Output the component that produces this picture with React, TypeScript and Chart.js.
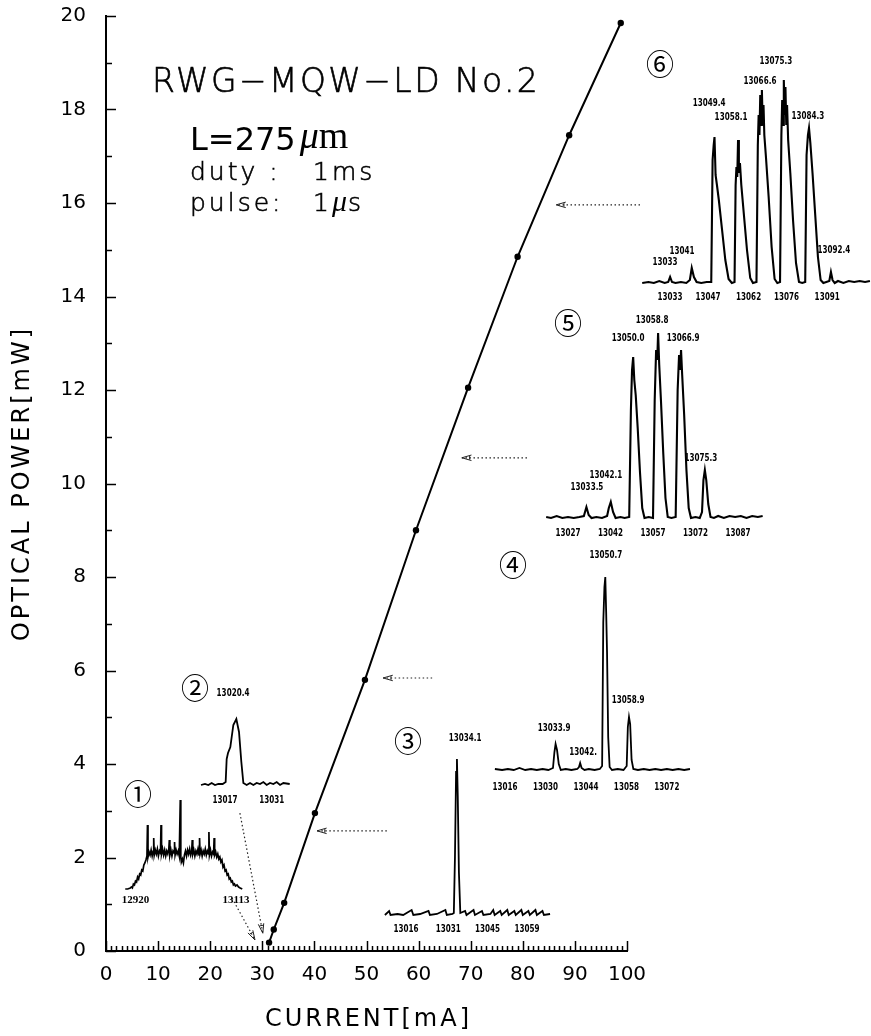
import React, { useEffect, useRef } from "react";
import { Chart, registerables } from "chart.js";

Chart.register(...registerables);

// ---------------- main L-I curve ----------------
const currentMA = [31.3, 32.2, 34.2, 40.1, 49.7, 59.5, 69.5, 79.0, 88.9, 98.8];
const powerMW = [0.18, 0.46, 1.03, 2.95, 5.8, 9.0, 12.05, 14.85, 17.45, 19.85];
const xTickLabels = ["0", "10", "20", "30", "40", "50", "60", "70", "80", "90", "100"];
const yTickLabels = ["0", "2", "4", "6", "8", "10", "12", "14", "16", "18", "20"];
const xAxisTitle = "CURRENT[mA]";
const yAxisTitle = "OPTICAL POWER[mW]";

// ---------------- spectra: [wavelength (Å), relative intensity] ----------------
const spec1: number[][] = [
  [12900.3, 1], [12905, 1], [12910, 2], [12912, 3], [12914, 2], [12916, 6], [12918, 5], [12920, 9], [12922, 8],
  [12924, 13], [12926, 11], [12928, 16], [12930, 15], [12932, 20], [12934, 19], [12936, 25], [12938, 27],
  [12940, 30], [12942, 34], [12943, 65], [12944, 33], [12946, 38], [12948, 35], [12950, 40], [12952, 34],
  [12954, 39], [12955, 52], [12956, 35], [12958, 40], [12960, 36], [12962, 41], [12964, 34], [12966, 39],
  [12968, 37], [12969, 65], [12970, 36], [12972, 41], [12974, 35], [12976, 40], [12978, 34], [12980, 39],
  [12982, 36], [12984, 41], [12985, 50], [12986, 35], [12988, 40], [12990, 34], [12992, 39], [12994, 37],
  [12995, 48], [12996, 35], [12998, 40], [13000, 36], [13002, 39], [13004, 34], [13006, 90], [13007, 33],
  [13008, 28], [13010, 31], [13012, 27], [13014, 35], [13016, 39], [13018, 34], [13020, 40], [13022, 36],
  [13024, 41], [13026, 35], [13028, 39], [13029, 50], [13030, 36], [13032, 40], [13034, 34], [13036, 39],
  [13038, 36], [13040, 41], [13042, 35], [13043, 52], [13044, 36], [13046, 40], [13048, 34], [13050, 39],
  [13052, 36], [13054, 41], [13056, 35], [13058, 39], [13060, 36], [13061, 58], [13062, 35], [13064, 40],
  [13066, 34], [13068, 38], [13070, 36], [13071, 52], [13072, 35], [13074, 38], [13076, 33], [13078, 36],
  [13080, 31], [13082, 33], [13084, 28], [13086, 30], [13088, 23], [13090, 25], [13092, 19], [13094, 20],
  [13096, 15], [13098, 16], [13100, 11], [13102, 12], [13104, 8], [13106, 9], [13108, 5], [13110, 6],
  [13112, 4], [13115, 5], [13118, 3], [13121, 2], [13125, 1], [13130, 1],
];
const spec2: number[][] = [
  [13009.8, 2], [13011, 3], [13012, 2], [13013, 4], [13014, 2], [13015, 3], [13016.3, 3], [13017.2, 5], [13017.5, 28],
  [13017.9, 34], [13018.6, 40], [13019.5, 62], [13020.4, 68], [13021.2, 55], [13021.9, 25], [13022.5, 4], [13023.5, 2],
  [13024.5, 4], [13025.5, 2], [13026.5, 4], [13027.5, 3], [13028.5, 5], [13029.5, 2], [13030.5, 4], [13031.5, 3],
  [13032.5, 5], [13033.5, 2], [13034.5, 4], [13036.4, 3],
];
const spec3: number[][] = [
  [13008.5, 2], [13010, 6], [13010.5, 2], [13013, 3], [13015, 2], [13018, 7], [13018.6, 2], [13021, 3], [13024, 6],
  [13024.5, 2], [13027, 3], [13030, 7], [13030.5, 2], [13032.5, 3], [13033.0, 4], [13033.4, 60], [13033.8, 145],
  [13034.1, 158], [13034.4, 120], [13034.8, 45], [13035.3, 4], [13037, 6], [13037.5, 2], [13040, 7], [13040.5, 2],
  [13043, 6], [13043.5, 2], [13046, 3], [13047, 7], [13047.5, 2], [13049.5, 6], [13050, 2], [13052, 7], [13052.5, 2],
  [13054.5, 6], [13055, 2], [13057, 7], [13057.5, 2], [13059.5, 6], [13060, 2], [13062, 7], [13062.5, 2], [13064.5, 6],
  [13065, 2], [13067.2, 3],
];
const spec4: number[][] = [
  [13012.5, 3], [13015, 2], [13017, 3], [13019, 2], [13021, 4], [13023, 2], [13025, 3], [13027, 2], [13029, 3],
  [13031, 2], [13032.6, 4], [13033.1, 20], [13033.5, 28], [13034, 22], [13034.6, 8], [13035.3, 2], [13037, 3],
  [13039, 2], [13041, 3], [13041.6, 5], [13042, 9], [13042.5, 4], [13043.5, 2], [13045, 3], [13047, 2], [13048.8, 3],
  [13049.6, 6], [13050.0, 150], [13050.4, 185], [13050.7, 195], [13051.0, 160], [13051.3, 120], [13051.7, 35],
  [13052.2, 5], [13053, 2], [13055, 3], [13057, 2], [13058.1, 6], [13058.5, 45], [13058.9, 55], [13059.3, 48],
  [13059.8, 12], [13060.4, 3], [13062, 2], [13064, 3], [13066, 2], [13068, 3], [13070, 2], [13072, 3], [13074, 2],
  [13076, 3], [13078, 2], [13080, 3],
];
const spec5: number[][] = [
  [13019.3, 3], [13021, 2], [13023, 4], [13025, 2], [13027, 3], [13029, 2], [13031, 3], [13032.6, 4], [13033.5, 13],
  [13034.3, 5], [13035.3, 2], [13037, 3], [13039, 2], [13040.8, 4], [13041.4, 12], [13042.1, 18], [13042.9, 8],
  [13043.8, 2], [13045.5, 3], [13047, 2], [13048.6, 3], [13049.2, 110], [13049.6, 150], [13050, 163], [13050.4, 140],
  [13050.9, 125], [13051.6, 92], [13052.4, 48], [13053.2, 12], [13054, 2], [13055.5, 3], [13057, 2], [13057.6, 120],
  [13058.1, 170], [13058.5, 160], [13058.8, 187], [13059.2, 155], [13059.8, 120], [13060.6, 68], [13061.4, 22],
  [13062.2, 3], [13063.5, 2], [13065, 3], [13065.7, 130], [13066.2, 165], [13066.6, 150], [13066.9, 170],
  [13067.3, 145], [13068, 105], [13068.8, 50], [13069.6, 12], [13070.4, 2], [13072, 3], [13073.5, 2], [13074.3, 8],
  [13074.8, 40], [13075.3, 50], [13075.8, 40], [13076.5, 16], [13077.3, 3], [13078.5, 2], [13080, 4], [13082, 2],
  [13084, 4], [13086, 3], [13088, 4], [13090, 2], [13092, 4], [13094, 3], [13095.7, 4],
];
const spec6: number[][] = [
  [13022.7, 2], [13025, 3], [13027, 2], [13029, 4], [13031, 2], [13032.3, 3], [13033, 8], [13033.7, 3], [13035, 2],
  [13037, 3], [13039, 2], [13040.3, 5], [13041, 17], [13041.8, 8], [13042.8, 3], [13044.5, 2], [13046.5, 3],
  [13048.2, 3], [13048.7, 125], [13049.1, 140], [13049.4, 148], [13049.8, 110], [13050.3, 100], [13051, 85],
  [13052.2, 55], [13053.4, 25], [13054.6, 6], [13055.8, 2], [13056.8, 3], [13057.2, 100], [13057.5, 118],
  [13057.8, 108], [13058.1, 145], [13058.4, 112], [13058.8, 122], [13059.3, 100], [13060.2, 72], [13061.4, 35],
  [13062.6, 7], [13063.6, 2], [13064.9, 3], [13065.4, 140], [13065.7, 170], [13066, 150], [13066.3, 190],
  [13066.6, 160], [13066.9, 195], [13067.2, 160], [13067.5, 180], [13067.8, 150], [13068.4, 128], [13069.4, 88],
  [13070.5, 38], [13071.6, 6], [13072.6, 2], [13073.6, 3], [13074.1, 150], [13074.4, 185], [13074.7, 160],
  [13075, 205], [13075.3, 170], [13075.6, 198], [13075.9, 160], [13076.2, 180], [13076.6, 145], [13077.4, 112],
  [13078.4, 65], [13079.5, 22], [13080.6, 3], [13081.8, 2], [13082.9, 3], [13083.4, 130], [13083.9, 150],
  [13084.3, 157], [13084.8, 142], [13085.6, 112], [13086.6, 70], [13087.6, 28], [13088.6, 5], [13089.6, 2],
  [13091.8, 4], [13092.4, 13], [13093, 5], [13093.8, 2], [13095, 4], [13097, 2], [13099, 4], [13101, 3], [13103, 4],
  [13105, 3], [13106.8, 4],
];

// spectrum axis ticks
const spec1Ticks = [12920, 13113];
const spec2Ticks = [13017, 13031];
const spec3Ticks = [13016, 13031, 13045, 13059];
const spec4Ticks = [13016, 13030, 13044, 13058, 13072];
const spec5Ticks = [13027, 13042, 13057, 13072, 13087];
const spec6Ticks = [13033, 13047, 13062, 13076, 13091];

// peak labels (text, wavelength)
const spec2PeakText = ["13020.4"];
const spec2PeakLambda = [13019.4];
const spec3PeakText = ["13034.1"];
const spec3PeakLambda = [13037.0];
const spec4PeakText = ["13050.7", "13058.9", "13033.9", "13042."];
const spec4PeakLambda = [13050.9, 13058.6, 13033.0, 13043.0];
const spec5PeakText = ["13050.0", "13058.8", "13066.9", "13042.1", "13033.5", "13075.3"];
const spec5PeakLambda = [13048.2, 13056.7, 13067.6, 13040.4, 13033.7, 13073.9];
const spec6PeakText = ["13075.3", "13066.6", "13049.4", "13058.1", "13084.3", "13041", "13033", "13092.4"];
const spec6PeakLambda = [13072.1, 13066.2, 13047.4, 13055.5, 13083.9, 13037.4, 13031.1, 13093.5];

// ---------------- layout / style (not data) ----------------
const PADX = 22;
const PADB = 24;
const LABEL_FONT = 'bold 10px "DejaVu Sans"';
const LABEL_SCALE = 0.72;

const spec2LabelLevel = [94];
const spec3LabelLevel = [179];
const spec4LabelLevel = [217, 72, 44, 20];
const spec5LabelLevel = [182, 200, 182, 45, 33, 62];
const spec6LabelLevel = [224, 204, 182, 168, 169, 34, 23, 35];

type Inset = {
  data: number[][];
  ticks: number[];
  peakText: string[];
  peakLambda: number[];
  labelLevel: number[];
  left: number;
  right: number;
  base: number;
  top: number;
  refA: number[];
  refB: number[];
  tickOffset: number;
  tickFont: string;
  tickScale: number;
  lineWidth: number;
};

const insets: Inset[] = [
  { data: spec1, ticks: spec1Ticks, peakText: [], peakLambda: [], labelLevel: [], left: 125, right: 242, base: 890, top: 780, refA: [12920, 135.5], refB: [13113, 236], tickOffset: 10, tickFont: 'bold 11px "Liberation Serif"', tickScale: 1, lineWidth: 1.7 },
  { data: spec2, ticks: spec2Ticks, peakText: spec2PeakText, peakLambda: spec2PeakLambda, labelLevel: spec2LabelLevel, left: 203, right: 292, base: 787, top: 680, refA: [13017, 225], refB: [13031, 271.7], tickOffset: 13, tickFont: LABEL_FONT, tickScale: LABEL_SCALE, lineWidth: 1.8 },
  { data: spec3, ticks: spec3Ticks, peakText: spec3PeakText, peakLambda: spec3PeakLambda, labelLevel: spec3LabelLevel, left: 385, right: 550, base: 917, top: 726, refA: [13016, 406], refB: [13059, 527], tickOffset: 12, tickFont: LABEL_FONT, tickScale: LABEL_SCALE, lineWidth: 1.8 },
  { data: spec4, ticks: spec4Ticks, peakText: spec4PeakText, peakLambda: spec4PeakLambda, labelLevel: spec4LabelLevel, left: 495, right: 690, base: 772, top: 543, refA: [13016, 505], refB: [13058.9, 629], tickOffset: 15, tickFont: LABEL_FONT, tickScale: LABEL_SCALE, lineWidth: 1.8 },
  { data: spec5, ticks: spec5Ticks, peakText: spec5PeakText, peakLambda: spec5PeakLambda, labelLevel: spec5LabelLevel, left: 545, right: 763, base: 520, top: 308, refA: [13027, 568], refB: [13087, 738], tickOffset: 13, tickFont: LABEL_FONT, tickScale: LABEL_SCALE, lineWidth: 2.1 },
  { data: spec6, ticks: spec6Ticks, peakText: spec6PeakText, peakLambda: spec6PeakLambda, labelLevel: spec6LabelLevel, left: 643, right: 870, base: 285, top: 48, refA: [13049.4, 714.5], refB: [13084.3, 809], tickOffset: 12, tickFont: LABEL_FONT, tickScale: LABEL_SCALE, lineWidth: 2.1 },
];

// circled markers (pixel centres on the page)
const markerText = ["①", "②", "③", "④", "⑤", "⑥"];
const markerPos = [[138, 798], [195, 692], [408, 745], [513, 569], [568, 327], [660, 68]];

// pointer arrows in data units (mA, mW): tail -> head
const pointerArrows = [
  { from: [102.5, 15.96], to: [86.4, 15.96] },
  { from: [80.8, 10.55], to: [68.3, 10.55] },
  { from: [62.6, 5.84], to: [53.2, 5.84] },
  { from: [53.9, 2.57], to: [40.5, 2.57] },
  { from: [25.7, 2.95], to: [30.1, 0.38] },
  { from: [24.2, 1.13], to: [28.6, 0.235] },
];

function drawScaledText(ctx: CanvasRenderingContext2D, text: string, x: number, y: number, sx: number) {
  ctx.save();
  ctx.translate(x, y);
  ctx.scale(sx, 1);
  ctx.fillText(text, 0, 0);
  ctx.restore();
}

function drawArrow(ctx: CanvasRenderingContext2D, x1: number, y1: number, x2: number, y2: number) {
  ctx.save();
  ctx.strokeStyle = "#222";
  ctx.lineWidth = 1.2;
  ctx.setLineDash([1.5, 2.5]);
  ctx.beginPath();
  ctx.moveTo(x1, y1);
  ctx.lineTo(x2, y2);
  ctx.stroke();
  ctx.setLineDash([]);
  const a = Math.atan2(y1 - y2, x1 - x2);
  const len = 10;
  const spread = 0.28;
  ctx.lineWidth = 1;
  ctx.beginPath();
  ctx.moveTo(x2 + len * Math.cos(a + spread), y2 + len * Math.sin(a + spread));
  ctx.lineTo(x2, y2);
  ctx.lineTo(x2 + len * Math.cos(a - spread), y2 + len * Math.sin(a - spread));
  ctx.moveTo(x2 + len * 0.8 * Math.cos(a + spread * 0.8), y2 + len * 0.8 * Math.sin(a + spread * 0.8));
  ctx.lineTo(x2 + len * 0.8 * Math.cos(a - spread * 0.8), y2 + len * 0.8 * Math.sin(a - spread * 0.8));
  ctx.stroke();
  ctx.restore();
}

function lightText(ctx: CanvasRenderingContext2D, text: string, x: number, y: number) {
  ctx.fillText(text, x, y);
  ctx.strokeText(text, x, y);
}

const decorPlugin = {
  id: "decor",
  afterDraw(chart: any) {
    const { ctx, chartArea, scales } = chart;
    const xs = scales.x;
    const ys = scales.y;
    ctx.save();
    ctx.strokeStyle = "#000";
    ctx.lineWidth = 1.5;
    // inward tick marks
    for (let v = 0; v <= 100; v++) {
      const px = Math.round(xs.getPixelForValue(v)) + 0.5;
      const len = v % 10 === 0 ? 10 : 5;
      ctx.beginPath();
      ctx.moveTo(px, chartArea.bottom);
      ctx.lineTo(px, chartArea.bottom - len);
      ctx.stroke();
    }
    for (let v = 0; v <= 20; v++) {
      const py = Math.round(ys.getPixelForValue(v)) + 0.5;
      const len = v % 2 === 0 ? 10 : 6;
      ctx.beginPath();
      ctx.moveTo(chartArea.left, py);
      ctx.lineTo(chartArea.left + len, py);
      ctx.stroke();
    }
    // axis titles
    ctx.fillStyle = "#000";
    ctx.textAlign = "center";
    ctx.textBaseline = "middle";
    ctx.font = '24px "DejaVu Sans"';
    (ctx as any).letterSpacing = "3px";
    ctx.fillText(xAxisTitle, (chartArea.left + chartArea.right) / 2 + 2, 1020);
    ctx.save();
    ctx.translate(22.5, (chartArea.top + chartArea.bottom) / 2);
    ctx.rotate(-Math.PI / 2);
    ctx.fillText(yAxisTitle, 0, 0);
    ctx.restore();

    // header texts
    ctx.textAlign = "left";
    ctx.textBaseline = "alphabetic";
    ctx.lineWidth = 0.6;
    (ctx as any).letterSpacing = "2.4px";
    ctx.font = '200 33px "DejaVu Sans"';
    lightText(ctx, "RWG−MQW−LD No.2", 152, 92);
    (ctx as any).letterSpacing = "0px";
    ctx.font = '32px "DejaVu Sans"';
    ctx.fillText("L=275", 190, 150);
    let x = 190 + ctx.measureText("L=275").width + 4;
    ctx.font = 'italic 38px "Liberation Serif"';
    ctx.fillText("μ", x, 148);
    x += ctx.measureText("μ").width;
    ctx.font = '38px "Liberation Serif"';
    ctx.fillText("m", x, 148);

    (ctx as any).letterSpacing = "3px";
    ctx.font = '300 25px "DejaVu Sans"';
    lightText(ctx, "duty :", 190, 180);
    lightText(ctx, "1ms", 313, 180);
    lightText(ctx, "pulse:", 190, 211);
    lightText(ctx, "1", 313, 211);
    x = 313 + ctx.measureText("1").width;
    (ctx as any).letterSpacing = "0px";
    ctx.font = 'italic 30px "Liberation Serif"';
    ctx.fillText("μ", x, 211);
    x += ctx.measureText("μ").width + 1;
    ctx.font = '300 25px "DejaVu Sans"';
    lightText(ctx, "s", x, 211);

    // circled markers
    ctx.textAlign = "center";
    ctx.textBaseline = "middle";
    ctx.font = '28px "DejaVu Serif", "Noto Sans CJK JP"';
    markerText.forEach((t, i) => ctx.fillText(t, markerPos[i][0], markerPos[i][1]));

    // arrows
    pointerArrows.forEach((a) => {
      drawArrow(
        ctx,
        xs.getPixelForValue(a.from[0]),
        ys.getPixelForValue(a.from[1]),
        xs.getPixelForValue(a.to[0]),
        ys.getPixelForValue(a.to[1])
      );
    });
    ctx.restore();
  },
};

function insetTextPlugin(ins: Inset) {
  return {
    id: "insetText",
    afterDraw(chart: any) {
      const { ctx, scales } = chart;
      const xs = scales.x;
      const ys = scales.y;
      const baseY = ys.getPixelForValue(0);
      ctx.save();
      ctx.fillStyle = "#000";
      ctx.textAlign = "center";
      ctx.textBaseline = "middle";
      ctx.font = ins.tickFont;
      ins.ticks.forEach((v) => {
        drawScaledText(ctx, String(v), xs.getPixelForValue(v), baseY + ins.tickOffset, ins.tickScale);
      });
      ctx.font = LABEL_FONT;
      ins.peakText.forEach((t, i) => {
        drawScaledText(ctx, t, xs.getPixelForValue(ins.peakLambda[i]), ys.getPixelForValue(ins.labelLevel[i]), LABEL_SCALE);
      });
      ctx.restore();
    },
  };
}

function insetConfig(ins: Inset): any {
  const k = (ins.refB[0] - ins.refA[0]) / (ins.refB[1] - ins.refA[1]);
  const xmin = ins.refA[0] + (ins.left - ins.refA[1]) * k;
  const xmax = ins.refA[0] + (ins.right - ins.refA[1]) * k;
  return {
    type: "line",
    data: {
      datasets: [
        {
          data: ins.data.map((p) => ({ x: p[0], y: p[1] })),
          borderColor: "#000",
          borderWidth: ins.lineWidth,
          pointRadius: 0,
          tension: 0,
          fill: false,
          clip: false,
        },
      ],
    },
    options: {
      animation: false,
      responsive: false,
      events: [],
      layout: { padding: { left: PADX, right: PADX, top: 0, bottom: PADB }, autoPadding: false },
      plugins: { legend: { display: false }, tooltip: { enabled: false } },
      scales: {
        x: { type: "linear", display: false, min: xmin, max: xmax },
        y: { type: "linear", display: false, min: 0, max: ins.base - ins.top },
      },
    },
    plugins: [insetTextPlugin(ins)],
  };
}

function mainConfig(): any {
  return {
    type: "scatter",
    data: {
      datasets: [
        {
          data: currentMA.map((c, i) => ({ x: c, y: powerMW[i] })),
          showLine: true,
          borderColor: "#000",
          backgroundColor: "#000",
          borderWidth: 2,
          pointRadius: 3.2,
          pointBorderWidth: 0,
          pointBackgroundColor: "#000",
          clip: false,
        },
      ],
    },
    options: {
      animation: false,
      responsive: false,
      events: [],
      layout: { padding: { left: 0, top: 16, right: 244, bottom: 0 }, autoPadding: false },
      plugins: { legend: { display: false }, tooltip: { enabled: false } },
      scales: {
        x: {
          type: "linear",
          position: "bottom",
          min: 0,
          max: 100,
          afterFit: (s: any) => {
            s.height = 85;
            s.paddingLeft = 0;
            s.paddingRight = 0;
          },
          grid: { display: false, drawTicks: false, tickLength: 0 },
          border: { display: true, color: "#000", width: 2 },
          ticks: {
            stepSize: 10,
            color: "#000",
            padding: 12,
            maxRotation: 0,
            autoSkip: false,
            font: { family: "DejaVu Sans", size: 20 },
            callback: (_v: any, i: number) => xTickLabels[i],
          },
        },
        y: {
          type: "linear",
          position: "left",
          min: 0,
          max: 20,
          afterFit: (s: any) => {
            s.width = 106;
            s.paddingTop = 0;
            s.paddingBottom = 0;
          },
          grid: { display: false, drawTicks: false, tickLength: 0 },
          border: { display: true, color: "#000", width: 2 },
          ticks: {
            stepSize: 2,
            color: "#000",
            padding: 20,
            autoSkip: false,
            font: { family: "DejaVu Sans", size: 20 },
            callback: (_v: any, i: number) => yTickLabels[i],
          },
        },
      },
    },
    plugins: [decorPlugin],
  };
}

export default function App() {
  const mainRef = useRef<HTMLCanvasElement | null>(null);
  const insetRefs = useRef<(HTMLCanvasElement | null)[]>([]);

  useEffect(() => {
    const charts: Chart[] = [];
    if (mainRef.current) charts.push(new Chart(mainRef.current, mainConfig()));
    insets.forEach((ins, i) => {
      const el = insetRefs.current[i];
      if (el) charts.push(new Chart(el, insetConfig(ins)));
    });
    return () => charts.forEach((c) => c.destroy());
  }, []);

  return (
    <div style={{ position: "absolute", left: 0, top: 0, width: 871, height: 1036, overflow: "hidden", background: "#fff" }}>
      <canvas ref={mainRef} width={871} height={1036} style={{ position: "absolute", left: 0, top: 0, width: 871, height: 1036 }} />
      {insets.map((ins, i) => {
        const w = ins.right - ins.left + 2 * PADX;
        const h = ins.base - ins.top + PADB;
        return (
          <canvas
            key={i}
            ref={(el) => {
              insetRefs.current[i] = el;
            }}
            width={w}
            height={h}
            style={{ position: "absolute", left: ins.left - PADX, top: ins.top, width: w, height: h }}
          />
        );
      })}
    </div>
  );
}
